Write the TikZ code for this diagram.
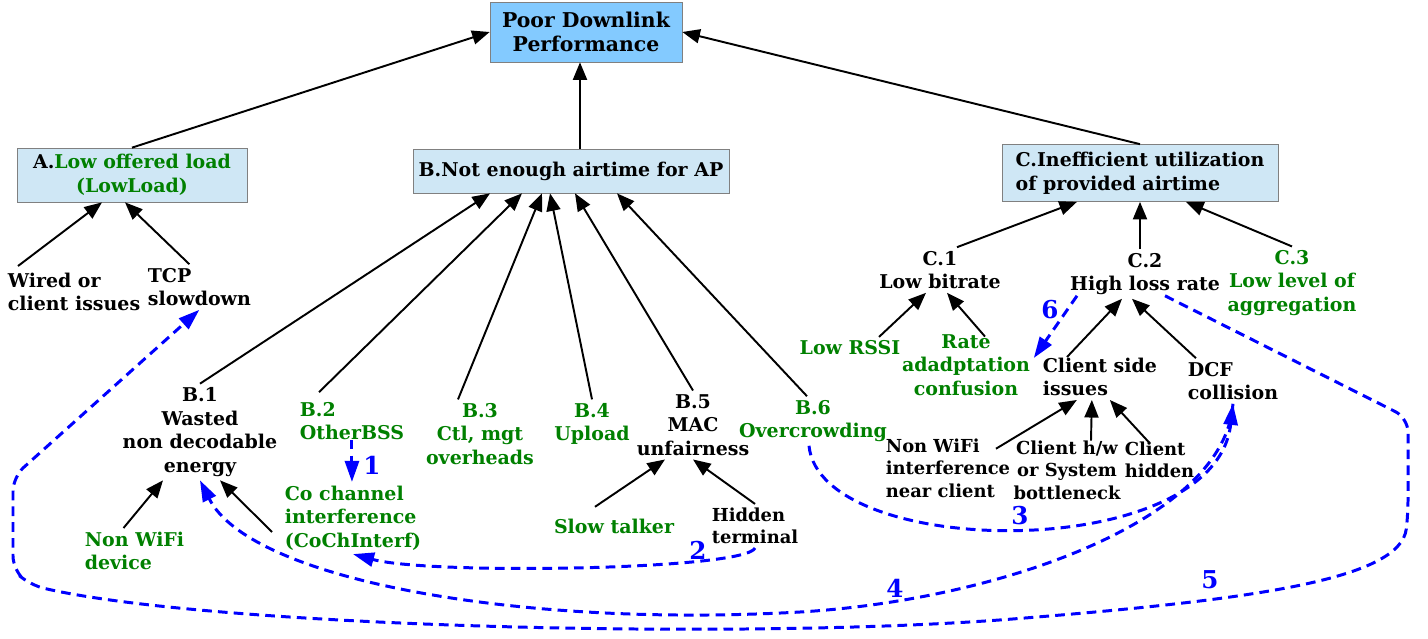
\documentclass[tikz,border=0pt]{standalone}
\usepackage{fontspec}
\setmainfont{DejaVu Serif}
\usetikzlibrary{arrows.meta,calc}
\definecolor{topblue}{RGB}{131,202,255}
\definecolor{boxblue}{RGB}{207,231,245}
\definecolor{leafgreen}{RGB}{0,128,0}
\begin{document}
\begin{tikzpicture}[x=0.02cm, y=-0.02cm, >={Triangle[length=10pt,width=8pt]},
    font=\fontsize{10.8}{13.4}\selectfont\bfseries,
    every node/.style={align=center, inner sep=2pt},
    box/.style={draw=gray, fill=boxblue},
    grn/.style={text=leafgreen},
    lft/.style={align=left, anchor=west},
    small/.style={font=\fontsize{10.2}{12.8}\selectfont\bfseries},
    arr/.style={->, line width=1.1pt},
    hint/.style={-{Triangle[length=12pt,width=8pt]}, blue, line width=1.7pt, dash pattern=on 5.5pt off 3.5pt},
    num/.style={text=blue, font=\fontsize{14}{14}\selectfont\bfseries}]
  \useasboundingbox (0,0) rectangle (1428,639);

  % 根节点和三个分类
  \node[box, fill=topblue, font=\fontsize{11.6}{14}\selectfont\bfseries, minimum width=3.84cm, minimum height=1.2cm] (top) at (586,32) {Poor Downlink\\Performance};
  \node[box, minimum width=4.6cm, minimum height=1.08cm] (A) at (132,175) {A.\textcolor{leafgreen}{Low offered load}\\\textcolor{leafgreen}{(LowLoad)}};
  \node[box, minimum width=6.32cm, minimum height=0.88cm] (B) at (571,171) {B.Not enough airtime for AP};
  \node[box, align=left, minimum width=5.52cm, minimum height=1.14cm] (C) at (1140,173) {C.Inefficient utilization\\of provided airtime};
  \draw[arr] (A.north) -- (top.west);
  \draw[arr] ($(B.north)+(9,0)$) -- ($(top.south)+(-6,0)$);
  \draw[arr] (C.north) -- (top.east);

  % A 下面
  \node[lft] (wired) at (4,292) {Wired or\\client issues};
  \node[lft] (tcp) at (144,287) {TCP\\slowdown};
  \draw[arr] ($(wired.north west)+(14,-3)$) -- ($(A.south)+(-30,0)$);
  \draw[arr] ($(tcp.north)+(-10,0)$) -- ($(A.south)+(-7,0)$);

  % B 下面
  \node (b1) at (200,432) {B.1\\Wasted\\non decodable\\energy};
  \node[grn, lft] (b2) at (296,421) {B.2\\OtherBSS};
  \node[grn] (b3) at (480,434) {B.3\\Ctl, mgt\\overheads};
  \node[grn] (b4) at (592,424) {B.4\\Upload};
  \node (b5) at (693,425) {B.5\\MAC\\unfairness};
  \node[grn] (b6) at (813,421) {B.6\\Overcrowding};
  \draw[arr] (b1.north) -- ($(B.south)+(-81,0)$);
  \draw[arr] ($(b2.north)+(-33,-6)$) -- ($(B.south)+(-49,0)$);
  \draw[arr] ($(b3.north)+(-22,0)$) -- ($(B.south)+(-29,0)$);
  \draw[arr] (b4.north) -- ($(B.south)+(-21,0)$);
  \draw[arr] (b5.north) -- ($(B.south)+(4,0)$);
  \draw[arr] ($(b6.north)+(-6,0)$) -- ($(B.south)+(46,0)$);

  \node[grn, lft] (nonwifi) at (81,551) {Non WiFi\\device};
  \node[grn, lft] (co) at (281,518) {Co channel\\interference\\(CoChInterf)};
  \node[grn] (slow) at (614,526) {Slow talker};
  \node[small, lft] (hidden) at (708,526) {Hidden\\terminal};
  \draw[arr] ($(nonwifi.north)+(-11,0)$) -- ($(b1.south)+(-37,0)$);
  \draw[arr] ($(co.west)+(-9,14)$) -- ($(b1.south)+(20,0)$);
  \draw[arr] ($(slow.north)+(-19,-8)$) -- ($(b5.south)+(-28,0)$);
  \draw[arr] (hidden.north) -- (b5.south);

  % C 下面
  \node (c1) at (940,270) {C.1\\Low bitrate};
  \node (c2) at (1145,274) {C.2\\High loss rate};
  \node[grn] (c3) at (1292,283) {C.3\\Low level of\\aggregation};
  \draw[arr] ($(c1.north)+(17,0)$) -- ($(C.south)+(-63,0)$);
  \draw[arr] ($(c2.north)+(-5,0)$) -- (C.south);
  \draw[arr] (c3.north) -- ($(C.south)+(46,0)$);

  \node[grn] (rssi) at (850,348) {Low RSSI};
  \node[grn] (rate) at (966,365) {Rate\\adadptation\\confusion};
  \node[lft] (client) at (1039,377) {Client side\\issues};
  \node[lft] (dcf) at (1184,381) {DCF\\collision};
  \draw[arr] ($(rssi.north)+(29,0)$) -- ($(c1.south)+(-14,0)$);
  \draw[arr] ($(rate.north)+(19,6)$) -- ($(c1.south)+(7,0)$);
  \draw[arr] ($(client.north west)+(28,3)$) -- ($(c2.south)+(-23,0)$);
  \draw[arr] ($(dcf.north)+(-37,0)$) -- ($(c2.south)+(-13,0)$);

  \node[small, lft] (nwi) at (882,468) {Non WiFi\\interference\\near client};
  \node[small] (chw) at (1067,470) {Client h/w\\or System\\bottleneck};
  \node[small, lft] (chid) at (1121,460) {Client\\hidden};
  \draw[arr] ($(nwi.north east)+(-18,14)$) -- ($(client.south)+(-23,0)$);
  \draw[arr] ($(chw.north)+(24,4)$) -- ($(client.south)+(-8,0)$);
  \draw[arr] ($(chid.north)+(-10,5)$) -- ($(client.south)+(10,0)$);

  % 蓝色虚线
  \draw[hint] ($(b2.south)+(0,-4)$) -- (b2.south |- co.north);
  \node[num] (n1) at (372,465) {1};
  \draw[hint] (hidden.south) .. controls (745,570) and (430,575) .. (co.south);
  \node[num] (n2) at (698,550) {2};
  \coordinate (m4) at (800,612);
  \draw[hint] (dcf.south) .. controls (1225,520) and (1000,600) .. (m4) .. controls (520,628) and (250,580) .. (b1.south);
  \node[num] (n4) at (895,588) {4};
  \draw[hint] ($(b6.south)+(-4,0)$) .. controls (820,560) and (1215,565) .. (dcf.south);
  \node[num] (n3) at (1020,516) {3};
  \draw[hint, rounded corners=8] ($(c2.south)+(20,-3)$) -- (1408,418) -- (1408,515) .. controls (1400,580) and (1250,600) .. (1000,620) .. controls (700,640) and (200,625) .. (30,585) -- (13,570) -- (13,477) -- (tcp.south);
  \node[num] (n5) at (1210,580) {5};
  \draw[hint] ($(c2.south)+(-68,-3)$) -- ($(rate.east)+(0,-7)$);
  \node[num] (n6) at (1050,310) {6};
\end{tikzpicture}
\end{document}
